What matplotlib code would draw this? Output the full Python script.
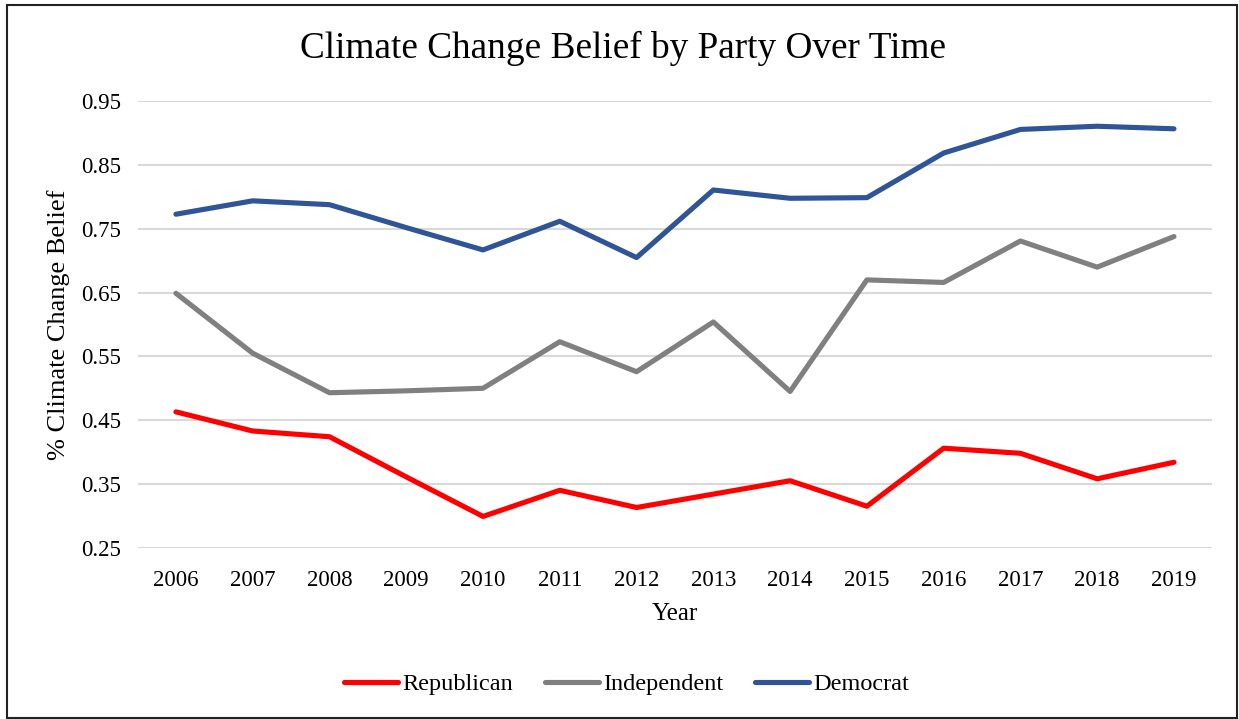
import matplotlib.pyplot as plt
from matplotlib.patches import Rectangle

years = [str(y) for y in range(2006, 2020)]
republican = [0.463, 0.433, 0.424, 0.361, 0.299, 0.340, 0.313, 0.334, 0.355, 0.315, 0.406, 0.398, 0.358, 0.384]
independent = [0.649, 0.555, 0.493, 0.496, 0.500, 0.573, 0.526, 0.604, 0.495, 0.670, 0.666, 0.731, 0.690, 0.738]
democrat = [0.773, 0.794, 0.788, 0.752, 0.717, 0.762, 0.705, 0.811, 0.798, 0.799, 0.869, 0.906, 0.911, 0.907]
yticks = [0.25, 0.35, 0.45, 0.55, 0.65, 0.75, 0.85, 0.95]

plt.rcParams['font.family'] = ['Liberation Serif', 'DejaVu Serif']

fig = plt.figure(figsize=(12.39, 7.19), dpi=100)
ax = fig.add_axes([0.111, 0.2383, 0.8675, 0.6207])

x = list(range(len(years)))
ax.plot(x, republican, color='#FF0000', lw=3.7, label='Republican', solid_capstyle='round', zorder=3)
ax.plot(x, independent, color='#808080', lw=3.7, label='Independent', solid_capstyle='round', zorder=3)
ax.plot(x, democrat, color='#2F5597', lw=3.7, label='Democrat', solid_capstyle='round', zorder=3)

ax.set_xlim(-0.5, len(years) - 0.5)
ax.set_ylim(0.25, 0.95)
ax.set_xticks(x)
ax.set_xticklabels(years)
ax.set_yticks(yticks)
ax.set_yticklabels([f'{v:.2f}' for v in yticks])
ax.tick_params(axis='x', length=0, labelsize=16.5, pad=16)
ax.tick_params(axis='y', length=0, labelsize=16.5, pad=12)
ax.grid(axis='y', color='#D9D9D9', lw=1.5)
ax.set_axisbelow(True)
for s in ax.spines.values():
    s.set_visible(False)

ax.set_xlabel('Year', fontsize=18, labelpad=9)
ax.set_ylabel('% Climate Change Belief', fontsize=19, labelpad=8)
fig.text(0.503, 0.932, 'Climate Change Belief by Party Over Time', fontsize=26.8,
         ha='center', va='center')

fig.legend(loc='center', bbox_to_anchor=(0.506, 0.048), ncol=3, frameon=False,
           fontsize=17.5, handlelength=2.2, handletextpad=0.2, columnspacing=1.3)

fig.patches.append(Rectangle((0.006, 0.002), 0.992, 0.991, transform=fig.transFigure,
                             fill=False, edgecolor='#222222', lw=1.5))

fig.savefig('out.png', dpi=100)
